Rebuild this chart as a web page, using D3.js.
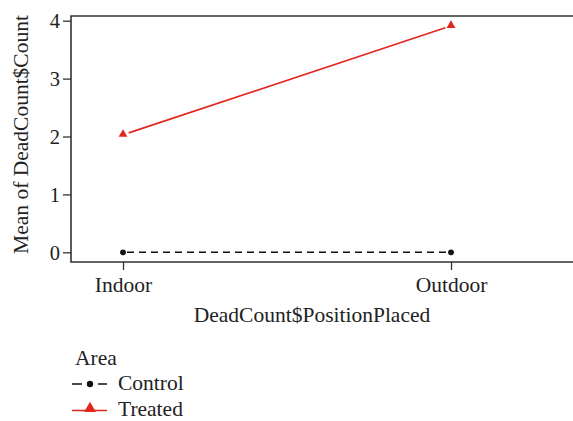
<!DOCTYPE html>
<html>
<head>
<meta charset="utf-8">
<script src="https://cdn.jsdelivr.net/npm/d3@7"></script>
<style>
  html, body { margin: 0; padding: 0; background: #fff; }
  svg text { font-family: "Liberation Serif", "DejaVu Serif", serif; fill: #222; }
</style>
</head>
<body>
<svg id="chart" width="573" height="421"></svg>
<script>
const categories = ["Indoor", "Outdoor"];
const controlValues = [0, 0];
const treatedValues = [2.03, 3.91];
const yTicks = [0, 1, 2, 3, 4];
const seriesNames = ["Control", "Treated"];
const xTitle = "DeadCount$PositionPlaced";
const yTitle = "Mean of DeadCount$Count";
const legendTitle = "Area";

const svg = d3.select("#chart");
const box = { left: 71, top: 16, right: 575, bottom: 262 };

const x = d3.scalePoint().domain(categories).range([123, 451]);
const y = d3.scaleLinear().domain([0, 4]).range([252.3, 20.7]);

const axisColor = "#333";
const red = "#e3261c";
const fs = 21.5;

// Frame: left, top, bottom lines
svg.append("path")
  .attr("d", `M${box.right},${box.top}H${box.left}V${box.bottom}H${box.right}`)
  .attr("fill", "none").attr("stroke", axisColor).attr("stroke-width", 1.6);

// Y axis
const yAxis = d3.axisLeft(y).tickValues(yTicks).tickSize(8).tickPadding(4).tickFormat(d3.format("d"));
const gy = svg.append("g").attr("transform", `translate(${box.left},0)`).call(yAxis);
gy.select(".domain").remove();
gy.selectAll(".tick line").attr("stroke", axisColor).attr("stroke-width", 1.3);
gy.selectAll(".tick text").attr("font-size", 20.5).attr("fill", "#222")
  .attr("font-family", "Liberation Serif, serif").attr("dy", "0.34em").attr("x", -11);

// X axis
const xAxis = d3.axisBottom(x).tickSize(8).tickPadding(6);
const gx = svg.append("g").attr("transform", `translate(0,${box.bottom})`).call(xAxis);
gx.select(".domain").remove();
gx.selectAll(".tick line").attr("stroke", axisColor).attr("stroke-width", 1.3);
gx.selectAll(".tick text").attr("font-size", fs).attr("fill", "#222")
  .attr("font-family", "Liberation Serif, serif").attr("dy", null).attr("y", 30);

// Titles
svg.append("text").attr("x", 312).attr("y", 321.5).attr("text-anchor", "middle")
  .attr("font-size", fs).text(xTitle);
svg.append("text").attr("transform", `translate(27.5,134.5) rotate(-90)`)
  .attr("text-anchor", "middle").attr("font-size", fs).text(yTitle);

// Lines with gaps around points (type "b")
function gappedSegments(vals, gap) {
  const pts = categories.map((c, i) => [x(c), y(vals[i])]);
  const segs = [];
  for (let i = 0; i < pts.length - 1; i++) {
    const [x0, y0] = pts[i], [x1, y1] = pts[i + 1];
    const len = Math.hypot(x1 - x0, y1 - y0);
    const ux = (x1 - x0) / len, uy = (y1 - y0) / len;
    segs.push([[x0 + ux * gap, y0 + uy * gap], [x1 - ux * gap, y1 - uy * gap]]);
  }
  return segs;
}
const line = d3.line();

gappedSegments(controlValues, 4).forEach(s => {
  svg.append("path").attr("d", line(s)).attr("fill", "none")
    .attr("stroke", "#111").attr("stroke-width", 1.5).attr("stroke-dasharray", "7,5");
});
gappedSegments(treatedValues, 6).forEach(s => {
  svg.append("path").attr("d", line(s)).attr("fill", "none")
    .attr("stroke", red).attr("stroke-width", 1.6);
});

// Points
svg.selectAll(".cpt").data(controlValues).enter().append("circle")
  .attr("cx", (d, i) => x(categories[i])).attr("cy", d => y(d)).attr("r", 2.9).attr("fill", "#111");
const tri = d3.symbol().type(d3.symbolTriangle).size(34);
svg.selectAll(".tpt").data(treatedValues).enter().append("path")
  .attr("d", tri).attr("fill", red)
  .attr("transform", (d, i) => `translate(${x(categories[i])},${y(d) - 0.5})`);

// Legend
svg.append("text").attr("x", 75).attr("y", 365).attr("font-size", fs).text(legendTitle);
// Control entry
const ly1 = 384;
svg.append("path").attr("d", `M72,${ly1}H82M98,${ly1}H107`).attr("stroke", "#111").attr("stroke-width", 1.5);
svg.append("circle").attr("cx", 90).attr("cy", ly1).attr("r", 3.2).attr("fill", "#111");
svg.append("text").attr("x", 118).attr("y", 390).attr("font-size", fs).text(seriesNames[0]);
// Treated entry
const ly2 = 410.5;
svg.append("path").attr("d", `M72,${ly2}H107`).attr("stroke", red).attr("stroke-width", 1.6);
svg.append("path").attr("d", d3.symbol().type(d3.symbolTriangle).size(60))
  .attr("transform", `translate(90,${ly2 - 2})`).attr("fill", red);
svg.append("text").attr("x", 118).attr("y", 416).attr("font-size", fs).text(seriesNames[1]);
</script>
</body>
</html>
